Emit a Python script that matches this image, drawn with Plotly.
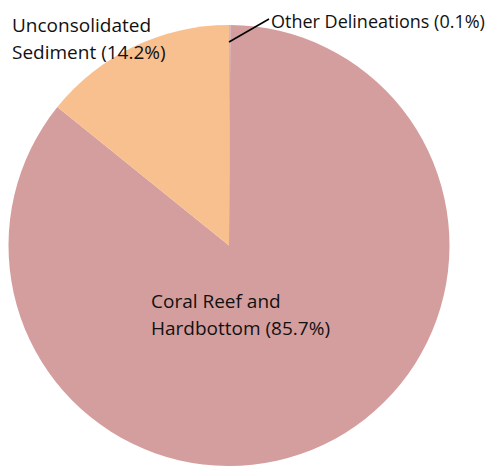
import plotly.graph_objects as go

W, H = 503, 468

labels = ["Other Delineations", "Coral Reef and Hardbottom", "Unconsolidated Sediment"]
values = [0.1, 85.7, 14.2]
colors = ["#9DC3EE", "#D59E9E", "#F9C08F"]

# label text lines as shown on the chart
label_lines = [
    ["Other Delineations (0.1%)"],
    ["Coral Reef and", "Hardbottom (85.7%)"],
    ["Unconsolidated", "Sediment (14.2%)"],
]

FONT = "Open Sans, Lato, sans-serif"
OFF = 8  # page body margin


def px_x(x):
    return (x - OFF) / W


def px_y(y):
    return 1 - (y - OFF) / H


fig = go.Figure(go.Pie(
    labels=labels,
    values=values,
    sort=False,
    direction="clockwise",
    rotation=0,
    marker=dict(colors=colors, line=dict(width=0)),
    textinfo="none",
    hoverinfo="label+percent",
    domain=dict(x=[px_x(8), px_x(450)], y=[px_y(466), px_y(25)]),
    showlegend=False,
))

# label anchors (left, top, font size) in pixels on the page
anchors = [(262, 8, 18), (142, 287, 19), (3, 11, 19)]
line_gap = 27

for lines, (ax, ay, fs) in zip(label_lines, anchors):
    for i, t in enumerate(lines):
        fig.add_annotation(
            x=px_x(ax + OFF), y=px_y(ay + i * line_gap), xref="paper", yref="paper",
            text=t, showarrow=False, xanchor="left", yanchor="top", borderpad=0,
            font=dict(family=FONT, size=fs, color="#111111"),
        )

# leader line for the tiny slice
fig.add_shape(type="line", xref="paper", yref="paper",
              x0=px_x(229), y0=px_y(42), x1=px_x(269), y1=px_y(19),
              line=dict(color="black", width=1.5))

fig.update_layout(
    width=W, height=H,
    margin=dict(l=0, r=0, t=0, b=0),
    paper_bgcolor="white",
    plot_bgcolor="white",
)

fig.write_html("out.html")
